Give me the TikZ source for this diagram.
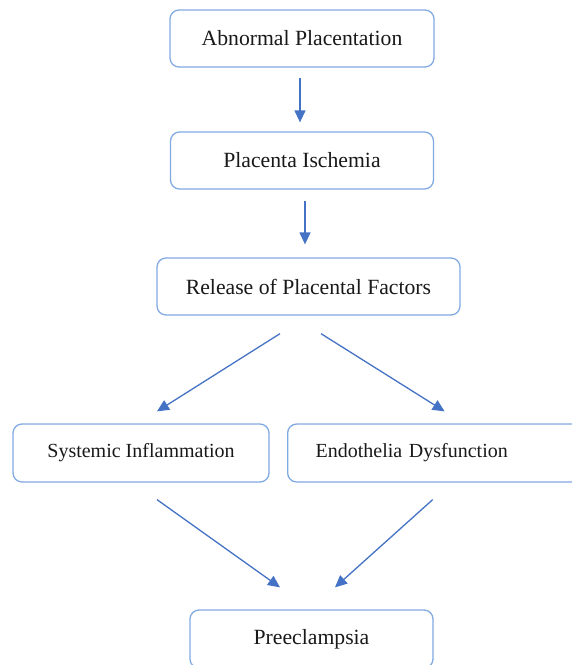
\documentclass[tikz,border=0pt]{standalone}
\usepackage{fontspec}
\setmainfont{Liberation Serif}
\usetikzlibrary{arrows.meta,calc}
\definecolor{boxline}{RGB}{130,170,226}
\definecolor{arrowcol}{RGB}{68,114,196}
\definecolor{txt}{RGB}{25,25,25}
\tikzset{
  flowbox/.style={draw=boxline, line width=1.3pt, rounded corners=9pt, fill=white,
    minimum height=57pt, inner sep=0pt, text=txt,
    font=\fontsize{21.7}{24}\selectfont},
  smalltext/.style={font=\fontsize{20}{23}\selectfont},
  arr/.style={draw=arrowcol, line width=1.3pt, -{Triangle[length=12pt,width=11pt]}}
}
\begin{document}
\begin{tikzpicture}[x=1pt,y=-1pt]
\useasboundingbox (0,0) rectangle (572,665);
\clip (0,0) rectangle (572,665);
\node[flowbox, minimum width=264pt] (n1) at (302,38.5) {Abnormal Placentation};
\node[flowbox, minimum width=263pt] (n2) at (302,160.5) {Placenta Ischemia};
\node[flowbox, minimum width=303pt] (n3) at (308.5,286.5) {Release of Placental Factors};
\node[flowbox, smalltext, minimum width=256pt, minimum height=58pt] (n4) at (141,453) {Systemic Inflammation};
\node[flowbox, smalltext, anchor=west, minimum height=58pt, inner xsep=28pt, text width=257pt, align=left] (n5) at (287,453) {Endothelia Dysfunction};
\node[flowbox, minimum width=243pt, minimum height=58pt] (n6) at (311.5,639) {Preeclampsia};
% vertical arrows
\draw[arr] ($(n1.south)+(-2,10)$) -- ($(n2.north)+(-2,-9)$);
\draw[arr] ($(n2.south)+(3,11)$) -- ($(n3.north)+(-3.5,-13)$);
% split arrows
\draw[arr] ($(n3.south)+(-28.5,18)$) -- ($(n4.north)+(16,-12)$);
\draw[arr] ($(n3.south)+(12.5,18)$) -- ($(n5.north)+(0.5,-12)$);
% merge arrows
\draw[arr] ($(n4.south)+(16,17)$) -- ($(n6.north)+(-31.5,-22)$);
\draw[arr] ($(n5.south)+(-11.5,17)$) -- ($(n6.north)+(23.5,-22)$);
\end{tikzpicture}
\end{document}
